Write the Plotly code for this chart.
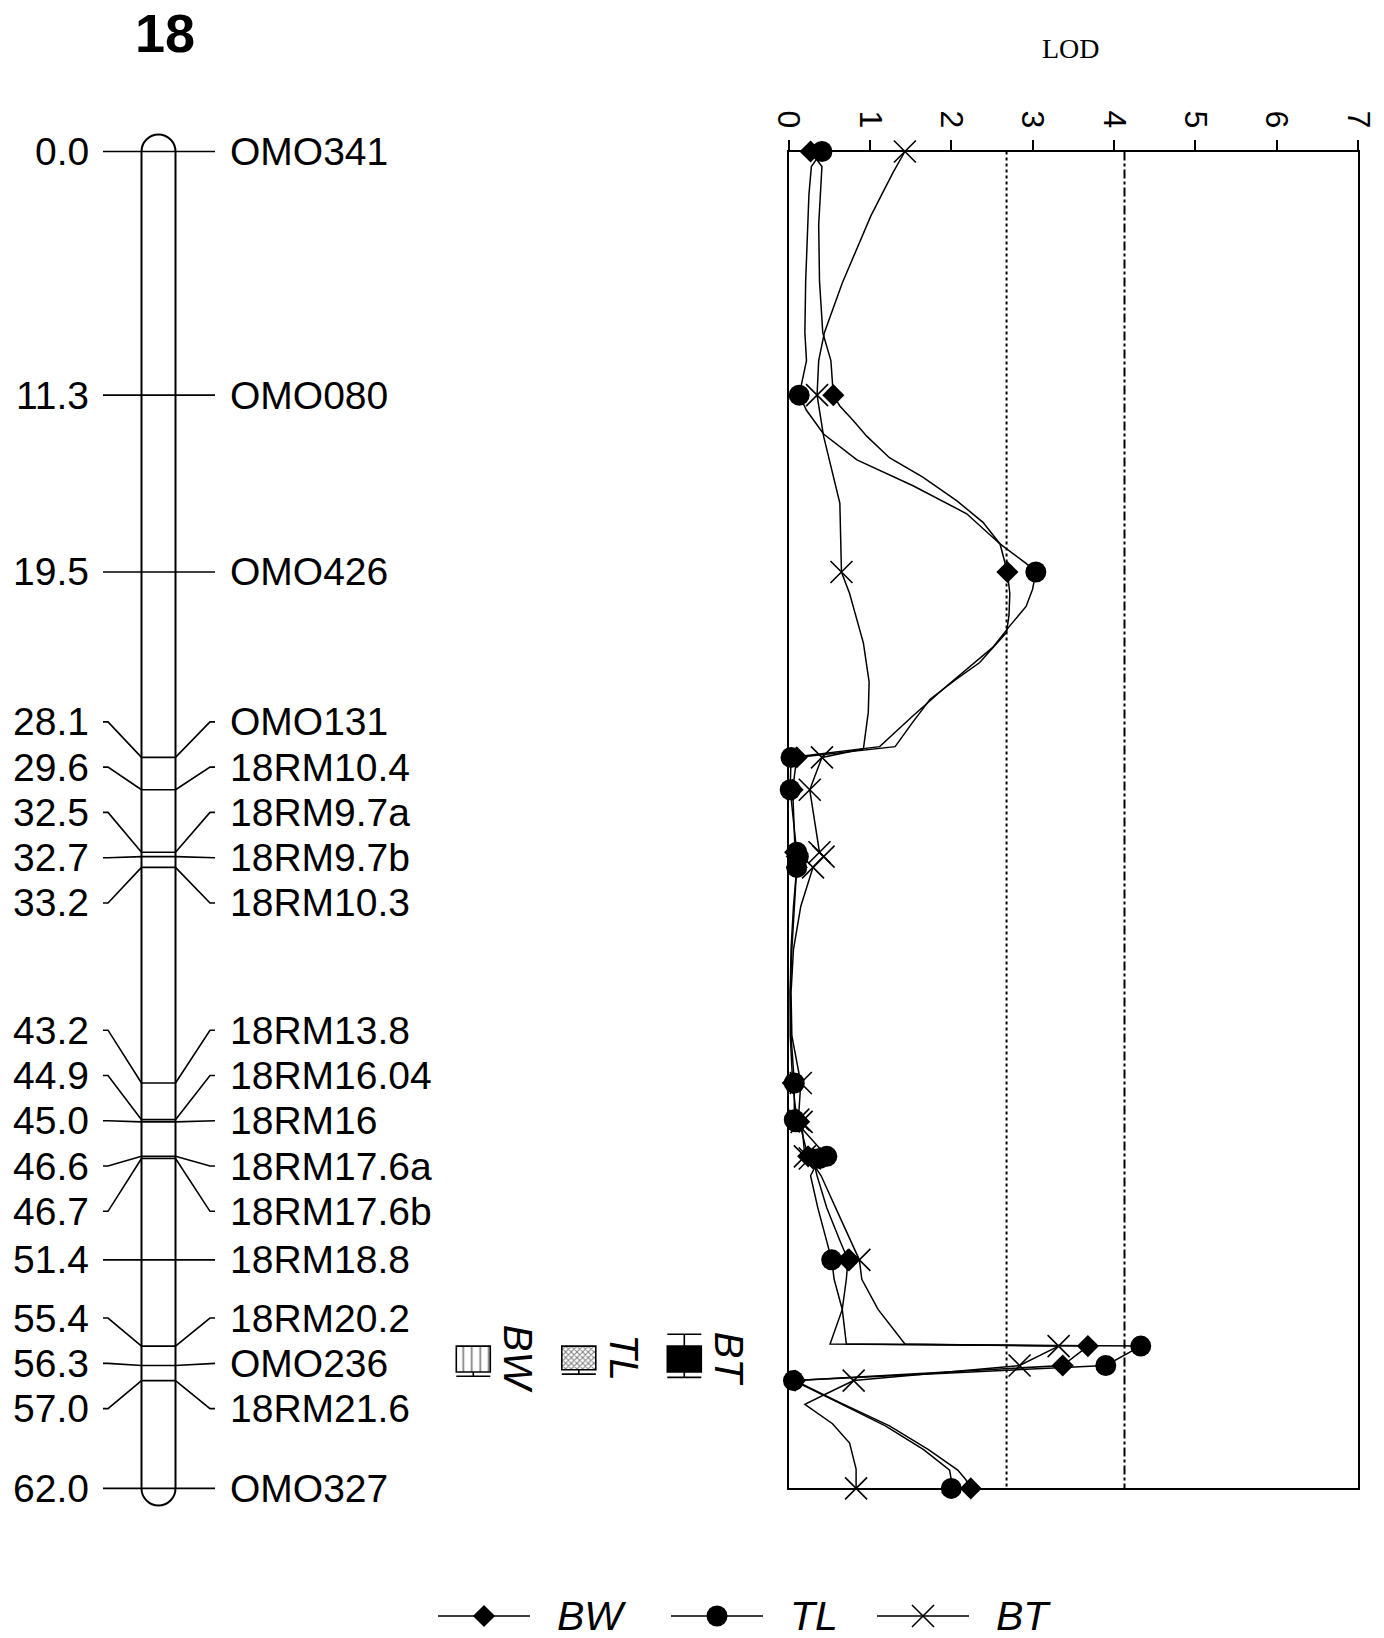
import plotly.graph_objects as go

# ------------------------------------------------------------------ data
chrom_name = "18"
marker_names = ["OMO341", "OMO080", "OMO426", "OMO131", "18RM10.4", "18RM9.7a",
                "18RM9.7b", "18RM10.3", "18RM13.8", "18RM16.04", "18RM16",
                "18RM17.6a", "18RM17.6b", "18RM18.8", "18RM20.2", "OMO236",
                "18RM21.6", "OMO327"]
marker_cm = [0.0, 11.3, 19.5, 28.1, 29.6, 32.5, 32.7, 33.2, 43.2, 44.9, 45.0,
             46.6, 46.7, 51.4, 55.4, 56.3, 57.0, 62.0]

trait_names = ["BW", "TL", "BT"]

# LOD profiles (cM, LOD)
bw_profile = [(0.0, 0.27), (0.7, 0.41), (3.4, 0.37), (6.0, 0.38), (8.4, 0.42),
              (9.7, 0.52), (11.3, 0.55), (11.8, 0.63), (12.5, 0.80), (13.2, 0.96),
              (14.2, 1.24), (15.1, 1.65), (16.2, 2.07), (17.2, 2.39), (18.2, 2.60),
              (19.5, 2.69), (20.5, 2.72), (21.5, 2.71), (22.3, 2.68), (23.0, 2.52),
              (23.7, 2.35), (24.5, 2.05), (25.4, 1.74), (26.5, 1.52), (27.6, 1.31),
              (28.1, 0.10), (29.6, 0.05), (32.5, 0.08), (32.7, 0.10), (33.2, 0.10),
              (35.0, 0.06), (37.0, 0.03), (39.0, 0.02), (41.0, 0.02), (43.2, 0.05),
              (44.9, 0.10), (45.0, 0.13), (46.6, 0.24), (46.7, 0.30), (47.5, 0.35),
              (49.0, 0.47), (50.5, 0.63), (51.4, 0.73), (52.3, 0.71), (53.7, 0.66),
              (55.3, 0.51), (55.4, 3.68), (56.3, 3.37), (57.0, 0.08), (58.0, 0.62),
              (59.1, 1.24), (60.2, 1.72), (61.15, 2.08), (61.6, 2.18), (62.0, 2.24)]
tl_profile = [(0.0, 0.41), (0.7, 0.28), (2.0, 0.25), (4.0, 0.23), (6.0, 0.21),
              (8.4, 0.20), (9.7, 0.22), (11.3, 0.13), (12.0, 0.22), (13.1, 0.43),
              (14.3, 0.84), (15.5, 1.53), (16.8, 2.19), (18.2, 2.60), (19.1, 2.92),
              (19.5, 3.04), (20.3, 3.00), (21.1, 2.92), (22.0, 2.72), (23.0, 2.51),
              (24.0, 2.19), (24.8, 1.94), (26.2, 1.52), (27.6, 1.12), (28.1, 0.03),
              (29.6, 0.02), (32.5, 0.10), (32.7, 0.12), (33.2, 0.10), (35.0, 0.07),
              (37.0, 0.04), (39.0, 0.02), (41.0, 0.03), (43.2, 0.07), (44.9, 0.07),
              (45.0, 0.09), (46.6, 0.47), (46.7, 0.38), (47.5, 0.27), (49.0, 0.36),
              (50.5, 0.47), (51.4, 0.53), (52.3, 0.56), (53.7, 0.66), (55.3, 0.71),
              (55.4, 4.33), (56.3, 3.90), (57.0, 0.06), (58.0, 0.60), (59.1, 1.19),
              (60.2, 1.66), (61.15, 1.98), (61.6, 2.00), (62.0, 2.00)]
bt_profile = [(0.0, 1.43), (1.0, 1.28), (3.0, 1.01), (6.1, 0.66), (8.4, 0.44),
              (9.7, 0.37), (11.3, 0.35), (13.2, 0.43), (16.3, 0.63), (19.5, 0.65),
              (20.5, 0.75), (22.8, 0.92), (24.6, 0.99), (26.0, 0.98), (27.7, 0.92),
              (28.1, 0.41), (29.6, 0.26), (32.5, 0.38), (32.7, 0.43), (33.2, 0.30),
              (35.0, 0.15), (37.0, 0.06), (39.0, 0.03), (41.0, 0.04), (43.2, 0.15),
              (44.9, 0.12), (45.0, 0.16), (46.6, 0.20), (46.7, 0.26), (47.5, 0.40),
              (49.0, 0.58), (50.5, 0.76), (51.4, 0.87), (52.3, 0.90), (53.7, 1.10),
              (55.3, 1.43), (55.4, 3.32), (56.3, 2.84), (57.0, 0.80), (57.6, 0.47),
              (58.1, 0.20), (59.0, 0.54), (59.9, 0.75), (61.1, 0.83), (62.0, 0.83)]

lod_ticks = [0, 1, 2, 3, 4, 5, 6, 7]
lod_thresholds = [2.68, 4.13]

# QTL intervals (cM): box and whisker ends
qtl_box_start = [55.4, 55.4, 55.4]
qtl_box_end = [56.6, 56.5, 56.6]
qtl_ci_start = [55.4, 55.4, 54.85]
qtl_ci_end = [56.8, 56.7, 56.85]

# ------------------------------------------------------------------ geometry / style
W, H = 1384, 1638
Y0_PX, Y1_PX = 151.5, 1488.4      # pixel rows of first / last map position
X0_PX, X1_PX = 788.6, 1357.9      # pixel columns of LOD 0 / LOD 7
cm_min, cm_max = marker_cm[0], marker_cm[-1]
PPC = (Y1_PX - Y0_PX) / (cm_max - cm_min)   # pixels per cM

FONT = "Arial, Liberation Sans, sans-serif"
LABEL_SIZE = 39
LABEL_GAP = 2.1          # min cM spacing of labels

CH_XL, CH_XR = 141.5, 175.5
CH_XC = (CH_XL + CH_XR) / 2
CH_R = (CH_XR - CH_XL) / 2
CONN_L = (103, 108)
CONN_R = (210, 215)
LEFT_TEXT_X = 91
RIGHT_TEXT_X = 228

QTL_X0, QTL_DX, QTL_W = 473.3, 105.5, 34
LEG_X = [438, 671, 877]
LEG_LEN = 92
LEG_Y_PX = 1616


def px2cm(p):
    return cm_min + (p - Y0_PX) / PPC


def pyp(p):
    return 1 - p / H


def pxp(p):
    return p / W


# ------------------------------------------------------------------ label spreading
def spread(pos, gap):
    clusters = [[i] for i in range(len(pos))]

    def labels_of(c):
        center = (pos[c[0]] + pos[c[-1]]) / 2
        n = len(c)
        return [center + (j - (n - 1) / 2) * gap for j in range(n)]

    changed = True
    while changed:
        changed = False
        for k in range(len(clusters) - 1):
            a, b = labels_of(clusters[k]), labels_of(clusters[k + 1])
            if b[0] - a[-1] < gap - 1e-9:
                clusters[k] = clusters[k] + clusters[k + 1]
                del clusters[k + 1]
                changed = True
                break
    out = [0.0] * len(pos)
    for c in clusters:
        for idx, v in zip(c, labels_of(c)):
            out[idx] = v
    return out


label_cm = spread(marker_cm, LABEL_GAP)

fig = go.Figure()

# ------------------------------------------------------------------ LOD panel
profiles = {"BW": bw_profile, "TL": tl_profile, "BT": bt_profile}
mstyle = {
    "BW": dict(symbol="diamond", size=17, color="black"),
    "TL": dict(symbol="circle", size=21, color="black"),
    "BT": dict(symbol="x-thin", size=22, color="black",
               line=dict(width=1.6, color="black")),
}

for t in trait_names:
    prof = profiles[t]
    fig.add_trace(go.Scatter(
        x=[p[1] for p in prof], y=[p[0] for p in prof], mode="lines",
        line=dict(color="black", width=1.5), xaxis="x", yaxis="y",
        hoverinfo="skip", showlegend=False))

for t in ["BT", "BW", "TL"]:
    d = dict(profiles[t])
    fig.add_trace(go.Scatter(
        x=[d[c] for c in marker_cm], y=marker_cm, mode="markers",
        marker=mstyle[t], xaxis="x", yaxis="y", cliponaxis=False,
        name=t, showlegend=False))

shapes = []
for th, dash in zip(lod_thresholds, ["dot", "dashdot"]):
    shapes.append(dict(type="line", xref="x", yref="y", x0=th, x1=th,
                       y0=cm_min, y1=cm_max, layer="below",
                       line=dict(color="black", width=2, dash=dash)))

# ------------------------------------------------------------------ chromosome
k = 0.5523
rc = CH_R / PPC
path = (f"M{CH_XL},{cm_min} L{CH_XL},{cm_max} "
        f"C{CH_XL},{cm_max + k * rc} {CH_XC - k * CH_R},{cm_max + rc} {CH_XC},{cm_max + rc} "
        f"C{CH_XC + k * CH_R},{cm_max + rc} {CH_XR},{cm_max + k * rc} {CH_XR},{cm_max} "
        f"L{CH_XR},{cm_min} "
        f"C{CH_XR},{cm_min - k * rc} {CH_XC + k * CH_R},{cm_min - rc} {CH_XC},{cm_min - rc} "
        f"C{CH_XC - k * CH_R},{cm_min - rc} {CH_XL},{cm_min - k * rc} {CH_XL},{cm_min} Z")
shapes.append(dict(type="path", xref="x2", yref="y2", path=path,
                   line=dict(color="black", width=2), fillcolor="rgba(0,0,0,0)"))

cx, cy = [], []
for m, lab in zip(marker_cm, label_cm):
    cx += [CONN_L[0], CONN_L[1], CH_XL, None, CH_XL, CH_XR, None,
           CH_XR, CONN_R[0], CONN_R[1], None]
    cy += [lab, lab, m, None, m, m, None, m, lab, lab, None]
fig.add_trace(go.Scatter(x=cx, y=cy, mode="lines", xaxis="x2", yaxis="y2",
                         line=dict(color="black", width=1.6),
                         hoverinfo="skip", showlegend=False))

annotations = []
for m, lab, name in zip(marker_cm, label_cm, marker_names):
    annotations.append(dict(x=LEFT_TEXT_X, y=lab, xref="x2", yref="y2",
                            text=f"{m:.1f}", showarrow=False, xanchor="right",
                            yanchor="middle",
                            font=dict(family=FONT, size=LABEL_SIZE, color="black")))
    annotations.append(dict(x=RIGHT_TEXT_X, y=lab, xref="x2", yref="y2",
                            text=name, showarrow=False, xanchor="left",
                            yanchor="middle",
                            font=dict(family=FONT, size=LABEL_SIZE, color="black")))

# ------------------------------------------------------------------ QTL boxes
patterns = [dict(shape="|", size=8.5, solidity=0.2, fgcolor="black", bgcolor="white"),
            dict(shape="x", size=4, solidity=0.45, fgcolor="black", bgcolor="white"),
            None]
for i, t in enumerate(trait_names):
    xc = QTL_X0 + i * QTL_DX
    mk = dict(color="white" if patterns[i] else "black",
              line=dict(color="black", width=1.6))
    if patterns[i]:
        mk["pattern"] = patterns[i]
    fig.add_trace(go.Bar(x=[xc], y=[qtl_box_end[i] - qtl_box_start[i]],
                         base=[qtl_box_start[i]], width=[QTL_W],
                         xaxis="x2", yaxis="y2", marker=mk,
                         hoverinfo="skip", showlegend=False))
    for a, b in [(qtl_ci_start[i], qtl_box_start[i]), (qtl_box_end[i], qtl_ci_end[i])]:
        if abs(a - b) > 1e-9:
            cap = a if a < qtl_box_start[i] else b
            shapes.append(dict(type="line", xref="x2", yref="y2", x0=xc, x1=xc,
                               y0=a, y1=b, line=dict(color="black", width=1.6)))
            shapes.append(dict(type="line", xref="x2", yref="y2",
                               x0=xc - QTL_W / 2, x1=xc + QTL_W / 2, y0=cap, y1=cap,
                               line=dict(color="black", width=1.6)))
    annotations.append(dict(x=xc + 45, y=(qtl_box_start[i] + qtl_box_end[i]) / 2,
                            xref="x2", yref="y2", text=f"<i>{t}</i>",
                            showarrow=False, textangle=90, xanchor="center",
                            yanchor="middle",
                            font=dict(family=FONT, size=40, color="black")))

# ------------------------------------------------------------------ bottom legend
leg_cm = px2cm(LEG_Y_PX)
for i, t in enumerate(trait_names):
    x0 = LEG_X[i]
    shapes.append(dict(type="line", xref="x2", yref="y2", x0=x0, x1=x0 + LEG_LEN,
                       y0=leg_cm, y1=leg_cm, line=dict(color="black", width=1.6)))
    fig.add_trace(go.Scatter(x=[x0 + LEG_LEN / 2], y=[leg_cm], mode="markers",
                             marker=mstyle[t], xaxis="x2", yaxis="y2",
                             cliponaxis=False, hoverinfo="skip", showlegend=False))
    annotations.append(dict(x=x0 + LEG_LEN + 25, y=leg_cm, xref="x2", yref="y2",
                            text=f"<i>{t}</i>", showarrow=False, xanchor="left",
                            yanchor="middle",
                            font=dict(family=FONT, size=41, color="black")))

# ------------------------------------------------------------------ titles
annotations.append(dict(x=pxp(164.5), y=pyp(1), xref="paper", yref="paper",
                        text=f"<b>{chrom_name}</b>", showarrow=False,
                        xanchor="center", yanchor="top",
                        font=dict(family=FONT, size=54, color="black")))
annotations.append(dict(x=pxp(1071), y=pyp(48), xref="paper", yref="paper",
                        text="LOD", showarrow=False, xanchor="center",
                        yanchor="middle",
                        font=dict(family="Liberation Serif, Times New Roman, serif",
                                  size=28, color="black")))

fig.update_layout(
    width=W, height=H, margin=dict(l=0, r=0, t=0, b=0),
    paper_bgcolor="white", plot_bgcolor="rgba(0,0,0,0)",
    barmode="overlay", showlegend=False,
    shapes=shapes, annotations=annotations,
    xaxis=dict(domain=[pxp(X0_PX), pxp(X1_PX)], range=[lod_ticks[0], lod_ticks[-1]],
               side="top", tickvals=lod_ticks, ticktext=[str(v) for v in lod_ticks],
               ticks="outside", ticklen=10, tickwidth=2, tickcolor="black",
               tickangle=90, tickfont=dict(family=FONT, size=32, color="black"),
               showline=True, linewidth=2, linecolor="black", mirror=True,
               showgrid=False, zeroline=False, anchor="y", automargin=False,
               fixedrange=True),
    yaxis=dict(domain=[pyp(Y1_PX), pyp(Y0_PX)], range=[cm_max, cm_min],
               showline=True, linewidth=2, linecolor="black", mirror=True,
               showticklabels=False, ticks="", showgrid=False, zeroline=False,
               anchor="x", automargin=False, fixedrange=True),
    xaxis2=dict(domain=[0, 1], range=[0, W], visible=False, anchor="y2",
                fixedrange=True),
    yaxis2=dict(domain=[0, 1], range=[px2cm(H), px2cm(0)], visible=False,
                anchor="x2", fixedrange=True),
)

fig.write_html("out.html", config={"displayModeBar": False},
               post_script="document.body.style.margin='0px';")
